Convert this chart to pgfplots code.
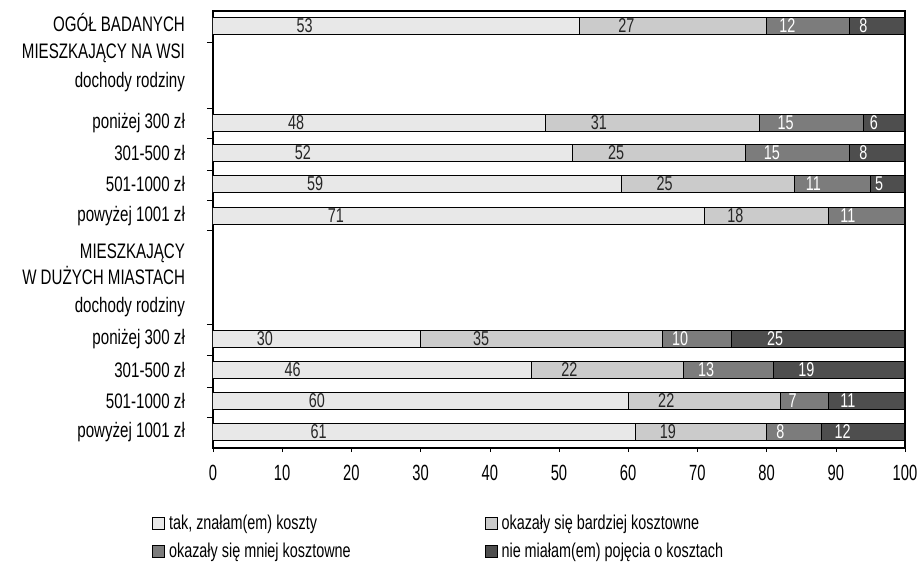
\documentclass[border=0pt]{standalone}
\usepackage{fontspec}
\setmainfont{Liberation Sans}[FakeStretch=0.72]
\newfontfamily\tickfont{Liberation Sans}[FakeStretch=0.67]
\usepackage{pgfplots}
\pgfplotsset{compat=1.18}
\definecolor{cA}{HTML}{E8E8E8}
\definecolor{cB}{HTML}{CBCBCB}
\definecolor{cC}{HTML}{7C7C7C}
\definecolor{cD}{HTML}{4E4E4E}
\begin{document}
\begin{tikzpicture}
\useasboundingbox (-106.5pt,-59.5pt) rectangle (354.5pt,224pt);
\begin{axis}[
  at={(0,0)}, anchor=south west,
  scale only axis, width=346pt, height=218.5pt,
  xbar stacked, bar width=17,
  xmin=0, xmax=100, ymin=11, ymax=448, y dir=reverse,
  font=\fontsize{10.5}{11.5}\selectfont,
  /pgf/number format/assume math mode=true,
  xtick={0,10,...,100},
  xtick pos=bottom, ytick pos=left,
  tick align=outside,
  major tick length=2pt,
  x tick style={black},
  xticklabel style={yshift=-3pt, font=\tickfont\fontsize{11}{12}\selectfont},
  ytick={22,53,82,123,153,184,216,253,275,307,339,370,401,432},
  yticklabels={OGÓŁ BADANYCH, MIESZKAJĄCY NA WSI, dochody rodziny, poniżej 300 zł, 301-500 zł, 501-1000 zł, powyżej 1001 zł, MIESZKAJĄCY, W DUŻYCH MIASTACH, dochody rodziny, poniżej 300 zł, 301-500 zł, 501-1000 zł, powyżej 1001 zł},
  y tick style={draw=none},
  yticklabel style={anchor=east, xshift=-8.5pt},
  extra y ticks={42,108,138,170,200,230,324,355,387,417},
  extra y tick labels={},
  extra y tick style={y tick style={draw=black}, major tick length=3pt},
  axis line style={black, line width=0.6pt},
  point meta=explicit symbolic,
  nodes near coords,
  visualization depends on=rawx \as \rawx,
  every node near coord/.append style={anchor=center, shift={(axis direction cs:-\rawx/4,0)}, font=\fontsize{10}{11}\selectfont, text=black!85},
  legend columns=2,
  legend cell align=left,
  legend style={at={(axis description cs:-0.097,-0.133)}, anchor=north west, draw=none, fill=none,
    font=\fontsize{10}{11}\selectfont,
    /tikz/every even column/.append style={column sep=65pt},
    row sep=1.5pt},
  legend image code/.code={\draw[#1, draw=black, line width=0.4pt] (0pt,-3pt) rectangle (6pt,3pt);},
]
\addplot[fill=cA, draw=black, line width=0.5pt] coordinates {
 (53,26)[53] (48,123)[48] (52,153)[52] (59,184)[59] (71,216)[71]
 (30,339)[30] (46,370)[46] (60,401)[60] (61,432)[61]};
\addlegendentry{tak, znałam(em) koszty}
\addplot[fill=cB, draw=black, line width=0.5pt] coordinates {
 (27,26)[27] (31,123)[31] (25,153)[25] (25,184)[25] (18,216)[18]
 (35,339)[35] (22,370)[22] (22,401)[22] (19,432)[19]};
\addlegendentry{okazały się bardziej kosztowne}
\addplot[fill=cC, draw=black, line width=0.5pt, every node near coord/.append style={text=white}] coordinates {
 (12,26)[12] (15,123)[15] (15,153)[15] (11,184)[11] (11,216)[11]
 (10,339)[10] (13,370)[13] (7,401)[7] (8,432)[8]};
\addlegendentry{okazały się mniej kosztowne}
\addplot[fill=cD, draw=black, line width=0.5pt, every node near coord/.append style={text=white}] coordinates {
 (8,26)[8] (6,123)[6] (8,153)[8] (5,184)[5] (0,216)[]
 (25,339)[25] (19,370)[19] (11,401)[11] (12,432)[12]};
\addlegendentry{nie miałam(em) pojęcia o kosztach}
\end{axis}
\end{tikzpicture}
\end{document}
